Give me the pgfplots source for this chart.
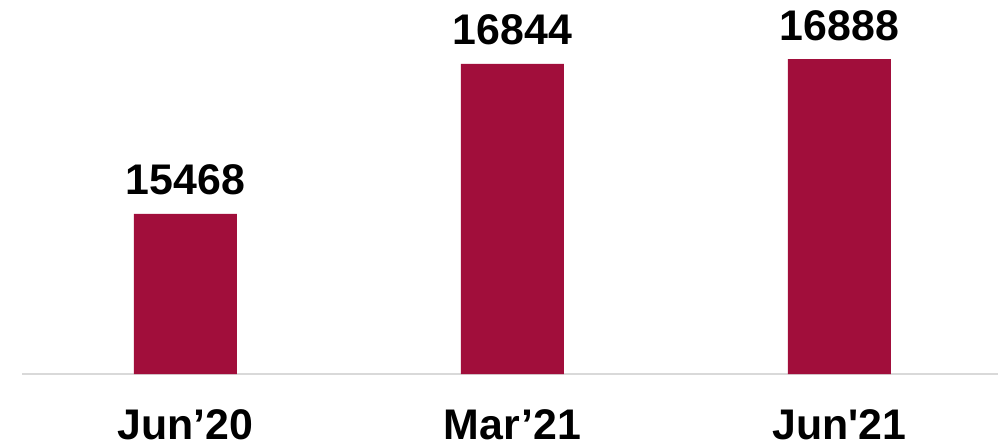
\documentclass[border=0pt]{standalone}
\usepackage{fontspec}
\setmainfont{Liberation Sans}
\usepackage{pgfplots}
\pgfplotsset{compat=1.18}
\definecolor{barred}{HTML}{A10E3B}
\definecolor{axgray}{HTML}{D9D9D9}
\begin{document}
\begin{tikzpicture}
\path[use as bounding box] (0,0) rectangle (998bp,446bp);
\begin{axis}[
  at={(22bp,72bp)}, anchor=south west,
  scale only axis,
  width=976bp, height=374bp,
  xmin=-0.5, xmax=2.485,
  ymin=14000, ymax=17431,
  clip=false,
  axis x line*=bottom,
  axis y line=none,
  axis line style={axgray, line width=1.5bp, -},
  xtick={0,1,2},
  xticklabels={Jun’20, Mar’21, Jun\textquotesingle21},
  major tick length=0pt,
  xticklabel style={font=\fontsize{43}{50}\selectfont\bfseries, anchor=base, yshift=-65bp, inner sep=0pt, text depth=0pt},
  ytick=\empty,
  /pgf/number format/assume math mode=true,
  /pgf/number format/1000 sep={},
  nodes near coords,
  every node near coord/.append style={font=\fontsize{43}{50}\selectfont\bfseries, anchor=base, inner sep=0pt, yshift=19bp, text=black},
  ybar, bar width=103bp,
]
\addplot[fill=barred, draw=none] coordinates {(0,15468) (1,16844) (2,16888)};
\end{axis}
\end{tikzpicture}
\end{document}
